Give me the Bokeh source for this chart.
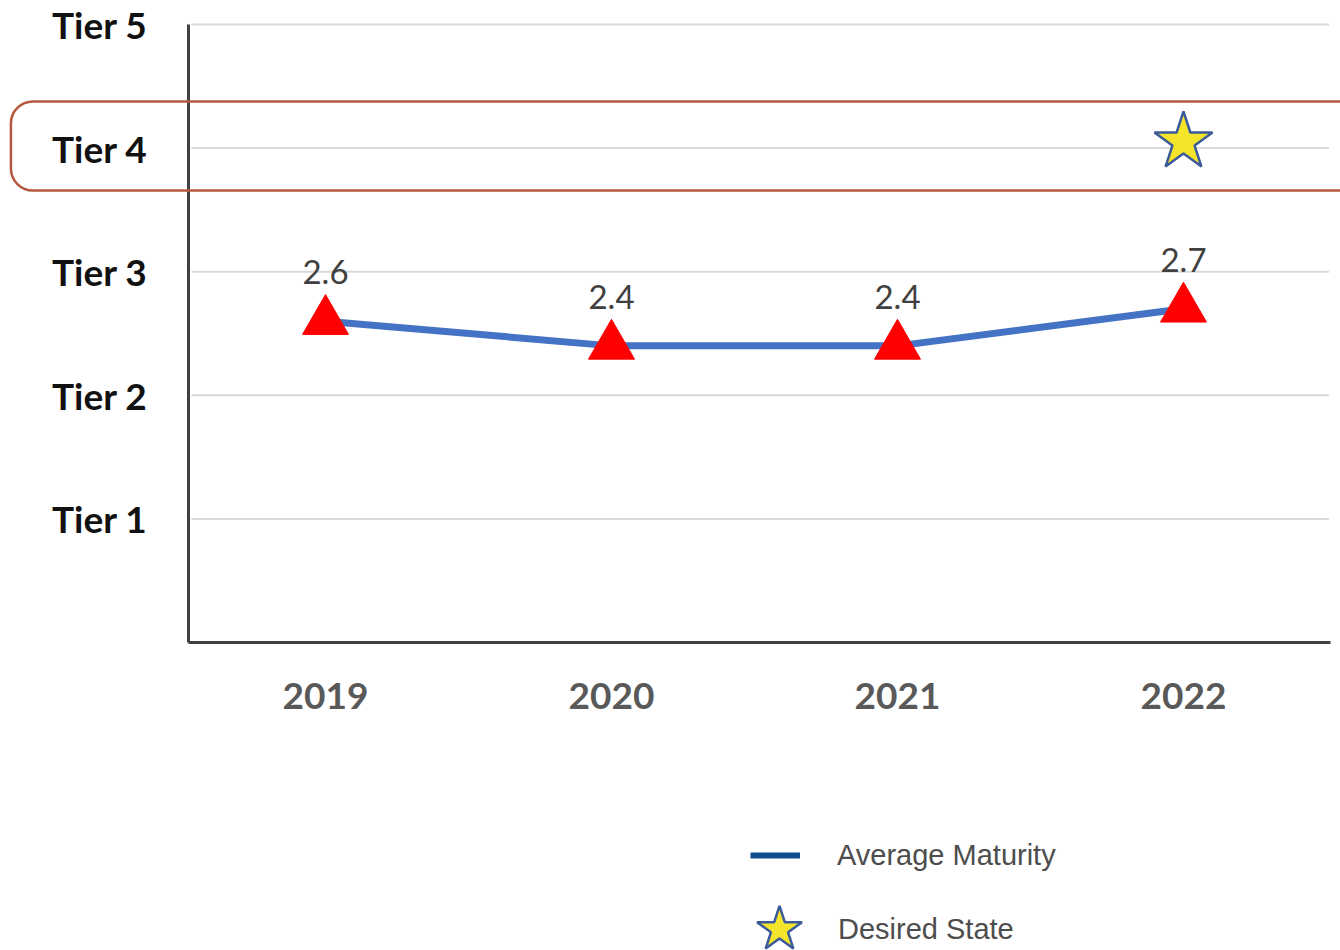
from bokeh.plotting import figure
from bokeh.models import (ColumnDataSource, Range1d, FixedTicker, BoxAnnotation,
                          Legend, LegendItem, LabelSet)
from bokeh.embed import file_html
from bokeh.resources import INLINE
from bokeh.core.properties import value

# ---- data ----
years = [2019, 2020, 2021, 2022]
year_labels = ["2019", "2020", "2021", "2022"]
avg_maturity = [2.6, 2.4, 2.4, 2.7]
value_labels = ["2.6", "2.4", "2.4", "2.7"]
desired_year = [2022]
desired_state = [4.05]
tier_values = [1, 2, 3, 4, 5]
tier_labels = ["Tier 1", "Tier 2", "Tier 3", "Tier 4", "Tier 5"]
highlight_low, highlight_high = 3.657, 4.377

# axis extents (data units)
x_axis_start, x_axis_end = 2018.521, 2022.514
y_axis_start, y_axis_end = 0, 5

p = figure(width=1340, height=950, output_backend="svg", toolbar_location=None,
           x_range=Range1d(2017.8636, 2022.549), y_range=Range1d(-2.4919, 5.1942),
           min_border=0)
p.outline_line_color = None
p.background_fill_color = "white"
p.border_fill_color = "white"
p.xgrid.grid_line_color = None
p.ygrid.grid_line_color = None

# axes drawn at fixed locations inside the frame
p.xaxis.fixed_location = y_axis_start
p.xaxis.bounds = (x_axis_start, x_axis_end)
p.yaxis.fixed_location = x_axis_start
p.yaxis.bounds = (y_axis_start, y_axis_end)
p.xaxis.ticker = FixedTicker(ticks=years)
p.xaxis.major_label_overrides = dict(zip(years, year_labels))
p.yaxis.ticker = FixedTicker(ticks=tier_values)
p.yaxis.major_label_overrides = dict(zip(tier_values, tier_labels))
for ax in (p.xaxis[0], p.yaxis[0]):
    ax.axis_line_color = "#404040"
    ax.axis_line_width = 3
    ax.major_tick_line_color = None
    ax.minor_tick_line_color = None
    ax.major_label_text_font = "Lato"
    ax.major_label_text_font_style = "bold"
    ax.major_label_text_font_size = "37px"
p.xaxis.major_label_text_color = "#595959"
p.yaxis.major_label_text_color = "#111111"
p.xaxis.major_label_standoff = 34
p.yaxis.major_label_standoff = 35

# horizontal grid lines, limited to the plotting area
p.segment(x0=[x_axis_start + 0.01] * len(tier_values), x1=[x_axis_end - 0.005] * len(tier_values),
          y0=tier_values, y1=tier_values, line_color="#d9d9d9", line_width=2)

# highlight box around Tier 4
box = BoxAnnotation(left=2017.9, right=2022.8, bottom=highlight_low, top=highlight_high,
                    fill_alpha=0, line_color="#b5583d", line_alpha=1, line_width=2.5,
                    border_radius=22)
p.add_layout(box)

src = ColumnDataSource(dict(x=years, y=avg_maturity, label=value_labels))
p.line("x", "y", source=src, line_color="#4472C4", line_width=7)
p.scatter("x", "y", source=src, marker="triangle", size=46,
          fill_color="#ff0000", line_color="#ff0000")
p.scatter(desired_year, desired_state, marker="star", size=61,
          fill_color="#f5e52a", line_color="#3a5a9a", line_width=2.5)

labels = LabelSet(x="x", y="y", text="label", source=src, y_offset=37,
                  text_align="center", text_baseline="alphabetic",
                  text_font=value("Lato"), text_font_size="33px", text_color="#404040")
p.add_layout(labels)

# legend proxies (hidden renderers that only supply the legend glyph styles)
leg_line = p.line(years, avg_maturity, line_color="#0f4f8f", line_width=6, visible=False)
leg_star = p.scatter(desired_year, desired_state, marker="star", fill_color="#f5e52a",
                     line_color="#3a5a9a", line_width=2.5, visible=False)

common = dict(padding=0, margin=0, border_line_color=None, background_fill_alpha=0,
              label_text_font="Liberation Sans", label_text_font_size="29px",
              label_text_color="#4d4d4d", spacing=0, inactive_fill_alpha=0,
              click_policy="none")
legend1 = Legend(items=[LegendItem(label="Average Maturity", renderers=[leg_line])],
                 location=(750, 75), glyph_width=50, glyph_height=40, label_height=40,
                 label_standoff=37, **common)
legend2 = Legend(items=[LegendItem(label="Desired State", renderers=[leg_star])],
                 location=(720, -38), glyph_width=118, glyph_height=118, label_height=118,
                 label_standoff=0, **common)
p.add_layout(legend1)
p.add_layout(legend2)

open("out.html", "w").write(file_html(p, INLINE))
